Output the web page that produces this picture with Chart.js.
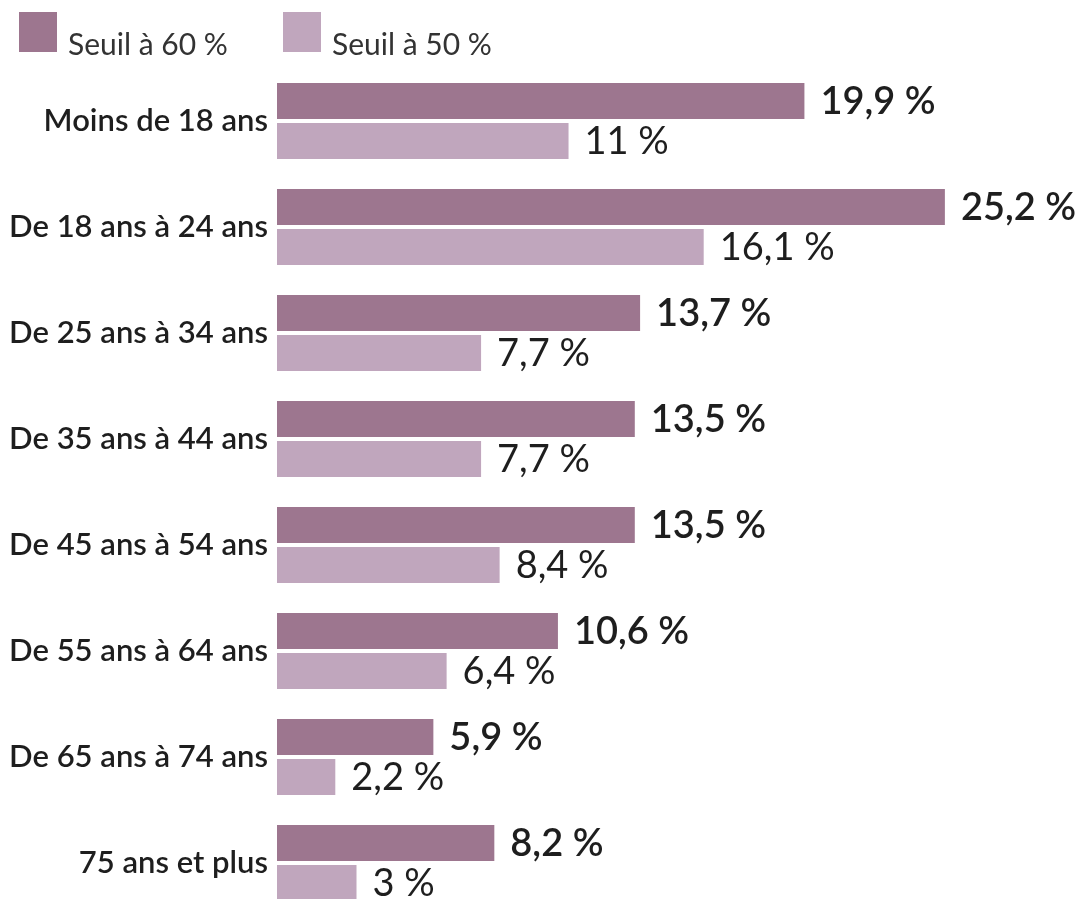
<!DOCTYPE html>
<html lang="fr">
<head>
<meta charset="utf-8">
<title>Taux de pauvreté par âge</title>
<script src="https://cdn.jsdelivr.net/npm/chart.js@4/dist/chart.umd.min.js"></script>
<style>
  html, body { margin: 0; padding: 0; background: #fff; overflow: hidden; }
  #wrap { position: relative; width: 1088px; height: 916px; }
</style>
</head>
<body>
<div id="wrap"><canvas id="graph"></canvas></div>
<script>
// données
const categories = ["Moins de 18 ans", "De 18 ans à 24 ans", "De 25 ans à 34 ans", "De 35 ans à 44 ans",
  "De 45 ans à 54 ans", "De 55 ans à 64 ans", "De 65 ans à 74 ans", "75 ans et plus"];
const seuil60 = [19.9, 25.2, 13.7, 13.5, 13.5, 10.6, 5.9, 8.2];
const seuil50 = [11, 16.1, 7.7, 7.7, 8.4, 6.4, 2.2, 3];
const seriesNames = ["Seuil à 60 %", "Seuil à 50 %"];

const FONT = "Lato, 'Open Sans', sans-serif";
const fmt = v => String(v).replace('.', ',') + ' %';

// valeurs au bout des barres
const valueLabels = {
  id: 'valueLabels',
  afterDatasetsDraw(chart) {
    const ctx = chart.ctx;
    ctx.save();
    ctx.fillStyle = '#1e1e1e';
    ctx.textAlign = 'left';
    ctx.textBaseline = 'middle';
    chart.data.datasets.forEach((ds, i) => {
      ctx.font = (i === 0 ? '600 ' : '400 ') + '38px ' + FONT;
      chart.getDatasetMeta(i).data.forEach((bar, j) => {
        ctx.fillText(fmt(ds.data[j]), bar.x + 16, bar.y + 1);
      });
    });
    ctx.restore();
  }
};

// légende en haut à gauche
const topLegend = {
  id: 'topLegend',
  afterDraw(chart) {
    const ctx = chart.ctx;
    const starts = [19, 283];
    ctx.save();
    ctx.font = '400 30px ' + FONT;
    ctx.textBaseline = 'alphabetic';
    chart.data.datasets.forEach((ds, i) => {
      const x = starts[i];
      ctx.fillStyle = ds.backgroundColor;
      ctx.fillRect(x, 12, 38, 40);
      ctx.fillStyle = '#333';
      ctx.fillText(ds.label, x + 49, 55);
    });
    ctx.restore();
  }
};

new Chart(document.getElementById('graph'), {
  type: 'bar',
  data: {
    labels: categories,
    datasets: [
      { label: seriesNames[0], data: seuil60, backgroundColor: '#9d768f' },
      { label: seriesNames[1], data: seuil50, backgroundColor: '#c0a6bd' }
    ]
  },
  options: {
    indexAxis: 'y',
    responsive: true,
    maintainAspectRatio: false,
    animation: false,
    layout: { padding: { top: 68, left: 0, right: 0, bottom: 0 } },
    datasets: { bar: { categoryPercentage: 0.755, barPercentage: 0.9 } },
    plugins: {
      legend: { display: false },
      tooltip: { enabled: false }
    },
    scales: {
      x: { display: false, min: 0, max: 30.6 },
      y: {
        grid: { display: false, drawTicks: false },
        border: { display: false },
        ticks: {
          color: '#1e1e1e',
          padding: 9,
          font: { family: FONT, size: 31, weight: '600' }
        },
        afterFit(scale) {
          scale.width = 277;
          scale.paddingTop = 0;
          scale.paddingBottom = 0;
        }
      }
    }
  },
  plugins: [valueLabels, topLegend]
});
</script>
</body>
</html>
